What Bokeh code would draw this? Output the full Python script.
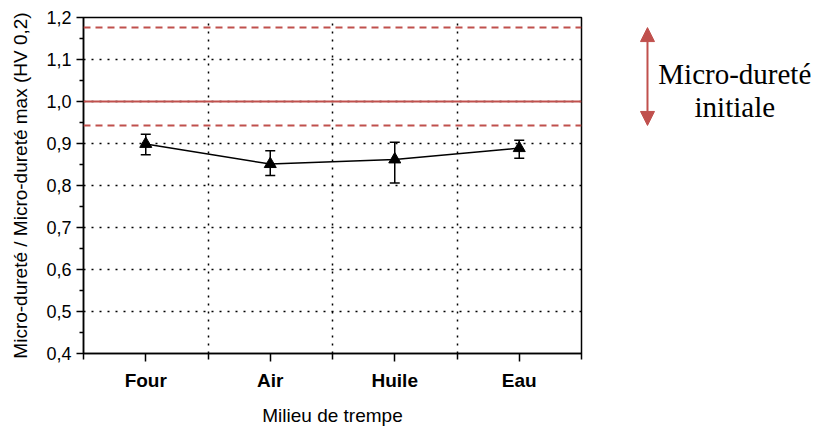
from bokeh.plotting import figure
from bokeh.embed import file_html
from bokeh.resources import INLINE
from bokeh.layouts import row
from bokeh.models import (Range1d, FixedTicker, Span, Arrow, NormalHead, Label,
                          Whisker, TeeHead, ColumnDataSource)

# ---- data ----
categories = ["Four", "Air", "Huile", "Eau"]
x_pos = [1, 2, 3, 4]
ratio = [0.899, 0.851, 0.862, 0.889]
err_upper = [0.922, 0.883, 0.903, 0.908]
err_lower = [0.873, 0.824, 0.806, 0.865]

y_ticks = [0.4, 0.5, 0.6, 0.7, 0.8, 0.9, 1.0, 1.1, 1.2]
y_tick_labels = ["0,4", "0,5", "0,6", "0,7", "0,8", "0,9", "1,0", "1,1", "1,2"]
y_minor = [0.45, 0.55, 0.65, 0.75, 0.85, 0.95, 1.05, 1.15]
y_grid = [0.5, 0.6, 0.7, 0.8, 0.9, 1.0, 1.1]
x_minor = [0.5, 1.5, 2.5, 3.5, 4.5]
x_grid = [1.5, 2.5, 3.5]

ref_initial = 1.0
ref_upper = 1.176
ref_lower = 0.943
note_lines = ["Micro-dureté", "initiale"]

red = "#C0504D"
sans = "Liberation Sans"
serif = "Liberation Serif"

TOP, BOTTOM, H = 17, 72, 428

src = ColumnDataSource(dict(x=x_pos, y=ratio, upper=err_upper, lower=err_lower))
y_range = Range1d(0.4, 1.2)

p = figure(width=583, height=H, x_range=Range1d(0.5, 4.5), y_range=y_range,
           output_backend="svg", toolbar_location=None,
           min_border_left=83, min_border_right=2, min_border_top=TOP,
           min_border_bottom=BOTTOM)
p.background_fill_color = "white"
p.border_fill_color = "white"
p.outline_line_color = "black"
p.outline_line_width = 1.5
p.outline_line_alpha = 1.0

# grids
p.xgrid.ticker = FixedTicker(ticks=x_grid)
p.ygrid.ticker = FixedTicker(ticks=y_grid)
for g in (p.xgrid, p.ygrid):
    g.grid_line_color = "black"
    g.grid_line_width = 1.5
    g.grid_line_dash = "2 6"
    g.grid_line_alpha = 1.0

xa = p.xaxis[0]
ya = p.yaxis[0]
for a in (xa, ya):
    a.axis_line_color = "black"
    a.axis_line_width = 1.5
    a.major_tick_line_color = "black"
    a.major_tick_line_width = 1.5
    a.minor_tick_line_color = "black"
    a.minor_tick_line_width = 1.5
    a.major_tick_in = 0
    a.minor_tick_in = 0
    a.major_label_text_color = "black"
    a.axis_label_text_color = "black"
    a.axis_label_text_font = sans
    a.axis_label_text_font_style = "normal"

# x axis
xa.ticker = FixedTicker(ticks=x_pos, minor_ticks=x_minor)
xa.major_label_overrides = {x: c for x, c in zip(x_pos, categories)}
xa.major_label_text_font = sans
xa.major_label_text_font_style = "bold"
xa.major_label_text_font_size = "19px"
xa.major_label_standoff = 8
xa.major_tick_out = 8
xa.minor_tick_out = 6
xa.axis_label = "Milieu de trempe"
xa.axis_label_text_font_size = "19px"
xa.axis_label_standoff = 11

# y axis
ya.ticker = FixedTicker(ticks=y_ticks, minor_ticks=y_minor)
ya.major_label_overrides = {t: l for t, l in zip(y_ticks, y_tick_labels)}
ya.major_label_text_font = sans
ya.major_label_text_font_size = "18px"
ya.major_label_standoff = 5
ya.major_tick_out = 7
ya.minor_tick_out = 4
ya.axis_label = "Micro-dureté / Micro-dureté max (HV 0,2)"
ya.axis_label_text_font_size = "19px"
ya.axis_label_standoff = 12

# reference lines
p.add_layout(Span(location=ref_initial, dimension="width", line_color=red, line_width=2))
for loc in (ref_upper, ref_lower):
    p.add_layout(Span(location=loc, dimension="width", line_color=red, line_width=2,
                      line_dash="7 5"))

# data
p.line("x", "y", source=src, line_color="black", line_width=1.5)
p.add_layout(Whisker(base="x", upper="upper", lower="lower", source=src,
                     line_color="black", line_width=1.5,
                     upper_head=TeeHead(size=10, line_color="black", line_width=1.5),
                     lower_head=TeeHead(size=10, line_color="black", line_width=1.5)))
p.scatter("x", "y", source=src, marker="triangle", size=12, fill_color="black",
          line_color="black")

# annotation panel at right, sharing the y scale
q = figure(width=231, height=H, x_range=Range1d(0, 1), y_range=y_range,
           output_backend="svg", toolbar_location=None,
           min_border_left=0, min_border_right=0, min_border_top=TOP,
           min_border_bottom=BOTTOM)
q.axis.visible = False
q.grid.visible = False
q.outline_line_color = None
q.background_fill_color = "white"
q.border_fill_color = "white"

arrow_x = 0.277
text_x = 0.655
q.add_layout(Arrow(x_start=arrow_x, y_start=ref_lower, x_end=arrow_x, y_end=ref_upper,
                   line_color=red, line_width=2,
                   start=NormalHead(size=14, fill_color=red, line_color=red),
                   end=NormalHead(size=14, fill_color=red, line_color=red)))
for txt, yy in zip(note_lines, [1.066, 0.986]):
    q.add_layout(Label(x=text_x, y=yy, text=txt, text_align="center",
                       text_baseline="alphabetic", text_font=serif,
                       text_font_size="29px", text_color="black"))

layout = row(p, q, spacing=0)
open("out.html", "w").write(file_html(layout, INLINE))
